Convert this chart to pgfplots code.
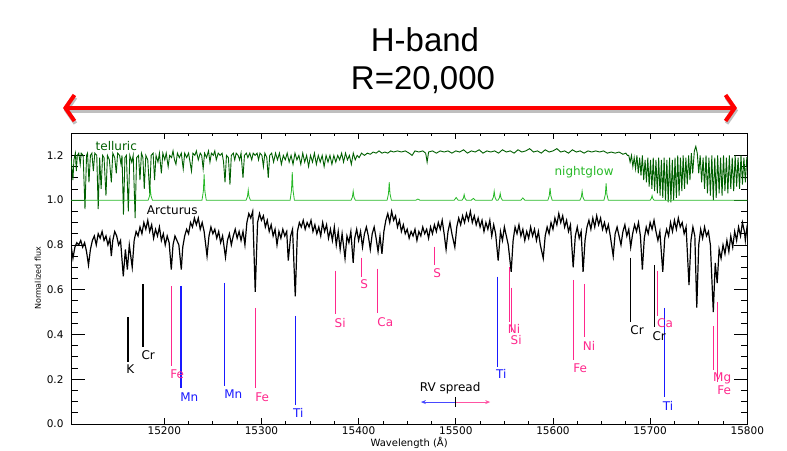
\documentclass[border=0pt]{standalone}
\usepackage{fontspec}
\setmainfont{Liberation Sans}
\newfontfamily\idl{DejaVu Sans}
\usepackage{pgfplots}
\usepackage{pgfplotstable}
\pgfplotsset{compat=1.18}
\usetikzlibrary{arrows.meta}
\definecolor{dkgreen}{RGB}{0,95,0}
\definecolor{ltgreen}{RGB}{40,185,40}
\definecolor{lnpink}{RGB}{255,40,140}
\definecolor{lnblue}{RGB}{25,25,255}

\pgfplotstableread{
x y
15104 0.80
15106 0.74
15108 0.79
15110 0.81
15112 0.80
15114 0.82
15116 0.79
15118 0.81
15120 0.77
15122 0.71
15124 0.78
15126 0.82
15128 0.84
15130 0.80
15132 0.85
15134 0.83
15136 0.86
15138 0.82
15140 0.84
15142 0.80
15144 0.83
15145.5 0.75
15147 0.82
15149 0.86
15151 0.84
15153 0.80
15155 0.82
15157.8 0.66
15160 0.78
15162 0.69
15164 0.80
15167 0.70
15169 0.82
15171 0.86
15173 0.84
15175 0.88
15177 0.85
15179 0.90
15181 0.87
15183 0.91
15185 0.86
15187 0.89
15189 0.83
15191 0.87
15193 0.84
15195 0.88
15197 0.82
15199 0.85
15201 0.80
15203 0.84
15205 0.81
15207.2 0.69
15209 0.80
15211 0.84
15213 0.82
15215 0.80
15217.5 0.69
15219 0.79
15221 0.84
15223 0.87
15225 0.85
15227 0.90
15229 0.88
15231 0.92
15233 0.89
15235 0.92
15237 0.87
15239 0.90
15241 0.86
15244 0.75
15246 0.84
15248 0.88
15250 0.85
15252 0.87
15254 0.83
15256 0.86
15258 0.81
15260 0.84
15263 0.745
15265 0.82
15267 0.85
15269 0.80
15271 0.84
15273 0.87
15275 0.83
15277 0.86
15279 0.82
15281 0.86
15283 0.80
15285 0.90
15287 0.94
15289 0.92
15291 0.95
15293.6 0.59
15296 0.90
15298 0.94
15300 0.91
15302 0.93
15304 0.88
15306 0.91
15308 0.86
15310 0.89
15312 0.84
15314 0.87
15316 0.80
15318 0.86
15320 0.83
15322 0.87
15324 0.84
15326 0.86
15327.6 0.73
15330 0.84
15332 0.87
15334.8 0.57
15337 0.86
15339 0.90
15341 0.88
15343 0.91
15345 0.87
15347 0.90
15349 0.88
15351 0.91
15353 0.86
15355 0.89
15357 0.85
15359 0.88
15361 0.84
15363 0.90
15365 0.86
15367 0.89
15369 0.83
15371 0.87
15373 0.82
15375 0.88
15377 0.80
15379 0.86
15381 0.78
15383 0.85
15386 0.74
15388 0.84
15390 0.81
15392 0.86
15394.4 0.72
15396 0.83
15398 0.87
15400 0.82
15402 0.86
15404 0.79
15406 0.85
15408 0.88
15410 0.84
15412 0.78
15414 0.85
15416 0.88
15418 0.83
15420 0.77
15422 0.84
15424 0.76
15426 0.86
15428 0.91
15430 0.94
15432 0.90
15434 0.95
15436 0.91
15438 0.93
15440 0.88
15442 0.91
15444 0.86
15446 0.89
15448 0.85
15450 0.87
15452 0.83
15454 0.86
15456 0.84
15458 0.87
15460 0.82
15462 0.86
15464 0.84
15466 0.88
15468 0.85
15470 0.87
15472 0.83
15474 0.88
15476 0.85
15478 0.89
15480 0.86
15482 0.90
15484 0.87
15486 0.91
15488 0.85
15490 0.78
15492 0.86
15494 0.90
15496 0.85
15499 0.79
15501 0.88
15503 0.92
15505 0.89
15507 0.93
15509 0.90
15511 0.94
15513 0.91
15515 0.95
15517 0.90
15519 0.93
15521 0.89
15523 0.92
15525 0.88
15527 0.91
15529 0.86
15531 0.90
15533 0.87
15535 0.91
15537 0.84
15539 0.89
15541 0.85
15543.6 0.73
15546 0.86
15548 0.82
15550 0.88
15552 0.84
15554 0.80
15557 0.68
15559 0.82
15561 0.88
15563 0.85
15565 0.89
15567 0.84
15569 0.87
15571 0.82
15573 0.86
15575 0.83
15577 0.88
15579 0.84
15581 0.87
15583 0.82
15585 0.86
15587 0.80
15590 0.74
15592 0.84
15594 0.88
15596 0.85
15598 0.90
15600 0.87
15602 0.92
15604 0.89
15606 0.94
15608 0.90
15610 0.93
15612 0.88
15614 0.91
15616 0.86
15618 0.89
15620.8 0.70
15623 0.84
15625 0.88
15627 0.83
15629 0.86
15631 0.68
15633 0.82
15635 0.88
15637 0.91
15639 0.87
15641 0.92
15643 0.88
15645 0.93
15647 0.89
15649 0.92
15651 0.87
15653 0.90
15655 0.86
15657 0.89
15659 0.84
15662 0.75
15664 0.85
15666 0.88
15668 0.84
15670 0.80
15672 0.86
15674 0.89
15676 0.84
15678 0.87
15680 0.79
15682 0.85
15684 0.89
15686 0.86
15688 0.90
15690 0.84
15692 0.69
15694 0.83
15696 0.88
15698 0.85
15700 0.90
15702 0.87
15704 0.91
15706 0.86
15708 0.82
15710 0.86
15713 0.68
15715 0.83
15717 0.87
15719 0.84
15721 0.90
15723 0.86
15725 0.91
15727 0.87
15729 0.92
15731 0.88
15733 0.90
15735 0.85
15737 0.88
15740 0.62
15742 0.82
15744 0.88
15746 0.84
15748 0.52
15750 0.80
15752 0.87
15754 0.83
15756 0.88
15758 0.84
15760 0.86
15762 0.80
15765 0.50
15767 0.72
15769 0.63
15771 0.78
15773 0.74
15775 0.80
15777 0.76
15779 0.82
15781 0.77
15783 0.84
15785 0.79
15787 0.86
15789 0.82
15791 0.88
15793 0.84
15795 0.90
15797 0.86
15798 0.82
15800 0.89
}\arcturus

\pgfplotstableread{
x y
15104 1.19
15105 1.14
15106 1.09
15107 1.18
15108.5 1.21
15109.5 1.13
15110.5 1.20
15112 1.21
15113.5 1.16
15114.5 1.21
15116.5 1.20
15118.4 0.96
15120 1.20
15121 1.21
15122.5 1.08
15124 1.20
15125.5 1.21
15127 1.13
15128.5 1.21
15130.5 1.20
15132 0.96
15133.5 1.19
15135 1.05
15136.5 1.20
15138 1.19
15140 1.02
15141.5 1.20
15143.5 1.18
15145.5 1.08
15147 1.21
15149 1.19
15150.6 1.12
15152 1.21
15154 1.20
15155.5 1.16
15156.5 1.20
15158 0.935
15159.5 1.19
15161 1.20
15163 0.95
15164.5 1.20
15166.5 1.17
15168 1.20
15170 0.92
15171.5 1.19
15173.5 1.20
15175 1.09
15176.5 1.21
15178 1.19
15179.4 1.05
15181 1.20
15183 1.18
15185 1.03
15186.5 1.20
15188.5 1.21
15190 1.09
15191.5 1.20
15193.5 1.17
15195 1.21
15197 1.12
15198.5 1.21
15200.5 1.18
15202 1.21
15204 1.15
15205.5 1.20
15207.5 1.19
15209 1.22
15210.5 1.18
15212 1.16
15213.5 1.21
15215.5 1.19
15217.5 1.21
15219.5 1.14
15221 1.21
15223 1.19
15225 1.21
15226.5 1.17
15228 1.13
15229.5 1.21
15231.5 1.20
15233 1.22
15235 1.18
15237 1.21
15238.5 1.20
15240 1.14
15241.5 1.21
15243.5 1.19
15245.5 1.22
15247 1.17
15248.5 1.21
15250.5 1.20
15252 1.22
15253.5 1.18
15255.5 1.21
15257.5 1.20
15259.5 1.21
15261 1.17
15262.5 1.08
15264 1.20
15266 1.19
15267.6 1.07
15269 1.20
15271 1.21
15272.5 1.18
15274 1.21
15276 1.20
15277.5 1.18
15279 1.21
15281 1.10
15282.5 1.20
15284.5 1.21
15286 1.19
15288 1.21
15290 1.18
15291.5 1.21
15293.5 1.20
15295.5 1.21
15297 1.18
15298.5 1.21
15300.5 1.20
15302 1.15
15303.5 1.21
15305.5 1.19
15307 1.10
15308.5 1.20
15310.5 1.21
15312.5 1.17
15314.5 1.21
15316.5 1.18
15318.5 1.21
15320.5 1.16
15322.5 1.20
15324.5 1.18
15326.5 1.21
15328.5 1.17
15330.5 1.20
15332.5 1.16
15334.5 1.21
15336.5 1.18
15338.5 1.20
15340.5 1.16
15342.5 1.21
15344.5 1.17
15346.5 1.20
15348.5 1.15
15350.5 1.20
15352.5 1.17
15354.5 1.21
15356.5 1.16
15358.5 1.20
15360.5 1.17
15362.5 1.20
15364.5 1.15
15366.5 1.20
15368.5 1.17
15370.5 1.20
15372.5 1.16
15374.5 1.20
15376.5 1.17
15378.5 1.20
15380.5 1.18
15382.5 1.21
15384.5 1.17
15386.5 1.21
15388.5 1.18
15390.5 1.20
15392.5 1.16
15394.5 1.21
15396.5 1.18
15398.5 1.20
15400.5 1.19
15403 1.21
15406 1.20
15409 1.21
15412 1.205
15415 1.215
15418 1.21
15421 1.22
15424 1.21
15427 1.215
15430 1.21
15433 1.22
15436 1.215
15440 1.22
15444 1.215
15448 1.22
15452 1.21
15455 1.20
15458 1.22
15462 1.215
15466 1.22
15469 1.21
15470.5 1.17
15472 1.215
15476 1.22
15480 1.21
15484 1.22
15488 1.215
15492 1.22
15496 1.21
15500 1.22
15504 1.215
15508 1.225
15512 1.21
15516 1.22
15520 1.215
15524 1.225
15528 1.21
15532 1.22
15536 1.215
15540 1.22
15544 1.21
15548 1.225
15552 1.215
15556 1.22
15560 1.21
15564 1.225
15568 1.215
15572 1.22
15576 1.23
15580 1.215
15584 1.22
15588 1.21
15592 1.225
15596 1.215
15600 1.22
15604 1.23
15608 1.215
15612 1.22
15616 1.21
15620 1.225
15624 1.215
15628 1.22
15632 1.21
15636 1.22
15640 1.215
15644 1.22
15648 1.215
15652 1.22
15656 1.21
15660 1.215
15664 1.21
15668 1.215
15672 1.205
15675 1.21
15676.6 1.20
15678 1.20
15679.4 1.17
15680.8 1.20
15682.2 1.15
15683.6 1.19
15685 1.14
15686.4 1.20
15687.8 1.12
15689.2 1.19
15690.6 1.11
15692 1.20
15693.4 1.09
15694.8 1.18
15696.2 1.08
15697.6 1.19
15699 1.06
15700.4 1.18
15701.8 1.05
15703.2 1.19
15704.6 1.04
15706 1.18
15707.4 1.03
15708.8 1.19
15710.2 1.02
15711.6 1.18
15713 1.01
15714.4 1.19
15715.8 1.00
15717.2 1.18
15718.6 0.99
15720 1.19
15721.4 0.99
15722.8 1.18
15724.2 1.00
15725.6 1.19
15727 1.01
15728.4 1.20
15729.8 1.02
15731.2 1.19
15732.6 1.04
15734 1.20
15735.4 1.05
15736.8 1.19
15738.2 1.07
15739.6 1.20
15741 1.09
15742.4 1.21
15743.8 1.12
15745.5 1.22
15747 1.24
15748.5 1.21
15750 1.12
15751.5 1.20
15753 1.08
15754.5 1.19
15756 1.05
15757.5 1.20
15759 1.03
15760.5 1.19
15762 1.02
15763.5 1.20
15765 1.00
15766.5 1.19
15768 1.01
15769.5 1.20
15771 1.03
15772.5 1.19
15774 1.02
15775.5 1.20
15777 1.04
15778.5 1.19
15780 1.03
15781.5 1.20
15783 1.05
15784.5 1.19
15786 1.04
15787.5 1.20
15789 1.06
15790.5 1.19
15792 1.05
15793.5 1.20
15795 1.07
15796.5 1.19
15798 1.08
15799.5 1.19
15800 1.19
}\telluric

\pgfplotstableread{
x y
15104 1.0
15183.4 1.0
15184.8 1.018
15185.6 1.05
15186.4 1.018
15187.8 1.0
15238.8 1.0
15240.2 1.04
15241 1.115
15241.8 1.04
15243.2 1.0
15284.2 1.0
15285.6 1.016
15286.4 1.045
15287.2 1.016
15288.6 1.0
15329.5 1.0
15330.9 1.044
15331.7 1.125
15332.5 1.044
15333.9 1.0
15392.2 1.0
15393.6 1.014
15394.4 1.04
15395.2 1.014
15396.6 1.0
15429.3 1.0
15430.7 1.028
15431.5 1.08
15432.3 1.028
15433.7 1.0
15459 1.0
15461 1.005
15463 1.0
15498.4 1.0
15500.4 1.012
15502.4 1.0
15506.4 1.0
15507.8 1.009
15508.6 1.025
15509.4 1.009
15510.8 1.0
15516 1.0
15518 1.008
15520 1.0
15537.3 1.0
15538.7 1.014
15539.5 1.04
15540.3 1.014
15541.7 1.0
15543.5 1.0
15544.9 1.011
15545.7 1.03
15546.5 1.011
15547.9 1.0
15567 1.0
15569 1.01
15571 1.0
15594.8 1.0
15596.2 1.02
15597 1.055
15597.8 1.02
15599.2 1.0
15627.8 1.0
15629.2 1.014
15630 1.04
15630.8 1.014
15632.2 1.0
15652.5 1.0
15653.9 1.026
15654.7 1.075
15655.5 1.026
15656.9 1.0
15700 1.0
15701.2 1.007
15702 1.02
15702.8 1.007
15704 1.0
15800 1.0
}\nightglow

\begin{document}
\begin{tikzpicture}
\useasboundingbox (0pt,0pt) rectangle (787pt,450pt);
% title
\node[anchor=base,font=\fontsize{33}{33}\selectfont] at (425pt,398pt) {H-band};
\node[anchor=base,font=\fontsize{33}{33}\selectfont] at (423pt,360pt) {R=20,000};
\draw[black!25,line width=4.5pt,{Straight Barb[length=9pt,width=26pt,line width=4pt]}-{Straight Barb[length=9pt,width=26pt,line width=4pt]}] (64pt,339.5pt) -- (738pt,339.5pt);
\draw[red,line width=4.5pt,{Straight Barb[length=9pt,width=26pt,line width=4pt]}-{Straight Barb[length=9pt,width=26pt,line width=4pt]}] (63pt,342pt) -- (737pt,342pt);

\pgfplotsset{
  idlaxis/.style={
    scale only axis, width=676.3pt, height=291pt,
    at={(71pt,26pt)}, anchor=south west,
    xmin=15104, xmax=15800, ymin=0, ymax=1.3,
    axis line style={line width=0.9pt},
    tick align=inside, tick pos=both,
    every tick/.style={black,line width=0.8pt},
    tick label style={font=\idl\fontsize{10.5}{10.5}\selectfont},
    /pgf/number format/assume math mode=true,
  }
}

% y ticks axis
\begin{axis}[idlaxis,
  xtick=\empty,
  ytick={0,0.2,0.4,0.6,0.8,1.0,1.2},
  minor y tick num=3,
  major tick length=13.5pt, minor tick length=6.7pt,
  yticklabel style={/pgf/number format/fixed,/pgf/number format/fixed zerofill,/pgf/number format/precision=1, xshift=-4pt},
  ylabel={Normalized flux},
  ylabel style={font=\idl\fontsize{8}{8}\selectfont, at={(axis description cs:-0.0488,0.5)}, anchor=center},
]
\addplot[draw=none] coordinates {(15104,0)};
\end{axis}

% main axis
\begin{axis}[idlaxis,
  ytick=\empty,
  xtick={15200,15300,15400,15500,15600,15700,15800},
  minor x tick num=3,
  scaled x ticks=false,
  major tick length=5.8pt, minor tick length=2.9pt,
  xticklabel style={/pgf/number format/fixed,/pgf/number format/precision=0,/pgf/number format/1000 sep={}, yshift=1pt},
  xlabel={Wavelength (Å)},
  xlabel style={font=\idl\fontsize{10}{10}\selectfont, at={(axis description cs:0.5,0)}, anchor=center, yshift=-18.5pt},
  unbounded coords=jump,
  clip=true,
]
\addplot[dkgreen, line width=0.9pt] table[x=x,y=y] {\telluric};
\addplot[ltgreen, line width=0.8pt] table[x=x,y=y] {\nightglow};
\addplot[black, line width=1.2pt] table[x=x,y=y] {\arcturus};

% line markers
\addplot[black, line width=1.1pt] coordinates {
 (15162.7,0.477) (15162.7,0.279) (15162.7,nan)
 (15178.1,0.625) (15178.1,0.346) (15178.1,nan)
 (15679.4,0.743) (15679.4,0.456) (15679.4,nan)
 (15704.1,0.711) (15704.1,0.434)};
\addplot[lnpink, line width=1.1pt] coordinates {
 (15207.2,0.617) (15207.2,0.260) (15207.2,nan)
 (15293.6,0.519) (15293.6,0.161) (15293.6,nan)
 (15376.6,0.685) (15376.6,0.492) (15376.6,nan)
 (15403.4,0.743) (15403.4,0.658) (15403.4,nan)
 (15419.1,0.694) (15419.1,0.497) (15419.1,nan)
 (15477.8,0.792) (15477.8,0.711) (15477.8,nan)
 (15554.9,0.702) (15554.9,0.456) (15554.9,nan)
 (15557.0,0.609) (15557.0,0.412) (15557.0,nan)
 (15620.8,0.644) (15620.8,0.286) (15620.8,nan)
 (15632.1,0.626) (15632.1,0.389) (15632.1,nan)
 (15707.2,0.685) (15707.2,0.483) (15707.2,nan)
 (15764.8,0.438) (15764.8,0.242) (15764.8,nan)
 (15768.9,0.546) (15768.9,0.188)};
\addplot[lnblue, line width=1.1pt] coordinates {
 (15217.2,0.617) (15217.2,0.161) (15217.2,nan)
 (15261.7,0.631) (15261.7,0.170) (15261.7,nan)
 (15334.8,0.483) (15334.8,0.085) (15334.8,nan)
 (15543.3,0.658) (15543.3,0.255) (15543.3,nan)
 (15714.4,0.519) (15714.4,0.121)};

% RV spread
\addplot[lnblue!80, line width=1pt, -{Stealth[length=5pt,width=4pt]}] coordinates {(15500,0.098) (15464.1,0.098)};
\addplot[lnpink!80, line width=1pt, -{Stealth[length=5pt,width=4pt]}] coordinates {(15500,0.098) (15535.4,0.098)};
\addplot[black, line width=0.9pt] coordinates {(15500,0.121) (15500,0.076)};

\begin{scope}[every node/.style={font=\idl\fontsize{12}{12}\selectfont, inner sep=0pt}]
\node[black] at (axis cs:15165,0.246) {K};
\node[black] at (axis cs:15183.5,0.309) {Cr};
\node[lnpink] at (axis cs:15213.4,0.224) {Fe};
\node[lnblue] at (axis cs:15225.7,0.121) {Mn};
\node[lnblue] at (axis cs:15271,0.134) {Mn};
\node[lnpink] at (axis cs:15300.8,0.121) {Fe};
\node[lnblue] at (axis cs:15337.9,0.049) {Ti};
\node[lnpink] at (axis cs:15381,0.452) {Si};
\node[lnpink] at (axis cs:15405.8,0.626) {S};
\node[lnpink] at (axis cs:15427.4,0.456) {Ca};
\node[lnpink] at (axis cs:15480.9,0.676) {S};
\node[lnblue] at (axis cs:15546.7,0.224) {Ti};
\node[lnpink] at (axis cs:15560,0.425) {Ni};
\node[lnpink] at (axis cs:15562.1,0.376) {Si};
\node[lnpink] at (axis cs:15628,0.251) {Fe};
\node[lnpink] at (axis cs:15637.2,0.349) {Ni};
\node[black] at (axis cs:15686.6,0.421) {Cr};
\node[black] at (axis cs:15709.3,0.394) {Cr};
\node[lnpink] at (axis cs:15715.4,0.452) {Ca};
\node[lnblue] at (axis cs:15718.5,0.081) {Ti};
\node[lnpink] at (axis cs:15774.1,0.206) {Mg};
\node[lnpink] at (axis cs:15776.1,0.152) {Fe};
\node[black] at (axis cs:15494.2,0.161) {RV spread};
\node[dkgreen] at (axis cs:15150.6,1.244) {telluric};
\node[black] at (axis cs:15208.2,0.953) {Arcturus};
\node[ltgreen] at (axis cs:15632,1.123) {nightglow};
\end{scope}
\end{axis}
\end{tikzpicture}
\end{document}
